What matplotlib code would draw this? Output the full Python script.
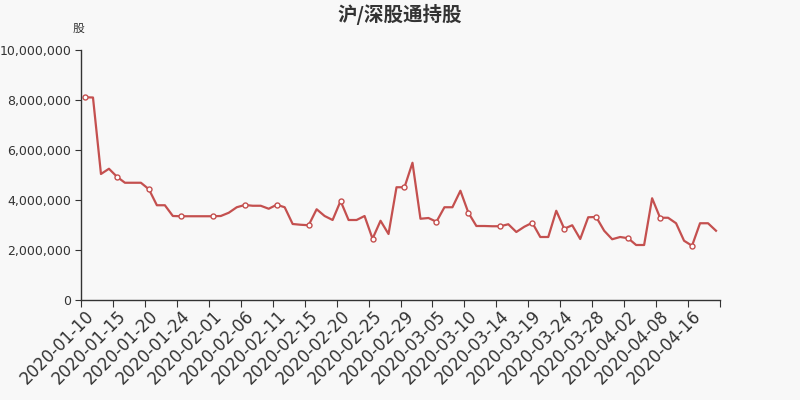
import numpy as np
import matplotlib
matplotlib.use("Agg")
import matplotlib.pyplot as plt
from matplotlib.ticker import FuncFormatter

# tick labels shown on the category axis (every 4th trading day)
tick_labels = ["2020-01-10", "2020-01-15", "2020-01-20", "2020-01-24", "2020-02-01",
               "2020-02-06", "2020-02-11", "2020-02-15", "2020-02-20", "2020-02-25",
               "2020-02-29", "2020-03-05", "2020-03-10", "2020-03-14", "2020-03-19",
               "2020-03-24", "2020-03-28", "2020-04-02", "2020-04-08", "2020-04-16"]

# holdings (shares), one per trading day
holdings = [8110000, 8100000, 5040000, 5250000, 4930000, 4690000, 4690000, 4690000,
            4430000, 3790000, 3790000, 3360000, 3350000, 3350000, 3350000, 3350000,
            3350000, 3360000, 3490000, 3710000, 3800000, 3770000, 3770000, 3650000,
            3810000, 3710000, 3040000, 3010000, 2990000, 3630000, 3360000, 3200000,
            3960000, 3200000, 3200000, 3360000, 2450000, 3170000, 2640000, 4510000,
            4510000, 5490000, 3250000, 3280000, 3130000, 3710000, 3710000, 4370000,
            3490000, 2960000, 2960000, 2950000, 2950000, 3030000, 2720000, 2930000,
            3090000, 2520000, 2520000, 3570000, 2850000, 2990000, 2440000, 3310000,
            3320000, 2770000, 2430000, 2520000, 2470000, 2200000, 2200000, 4070000,
            3290000, 3290000, 3070000, 2370000, 2170000, 3070000, 3070000, 2770000]

n = len(holdings)
x = np.arange(n)
bg = "#f8f8f8"
axis_color = "#333333"
line_color = "#c4504f"
cjk = ["Noto Sans CJK SC", "DejaVu Sans"]

fig = plt.figure(figsize=(8, 4), dpi=100, facecolor=bg)
ax = fig.add_axes([0.10125, 0.25, 0.79875, 0.625], facecolor=bg)

ax.plot(x, holdings, color=line_color, linewidth=1.6,
        marker="o", markevery=4, markersize=3.6,
        markerfacecolor="white", markeredgecolor=line_color, markeredgewidth=1)

ax.set_xlim(-0.5, n - 0.5)
ax.set_ylim(0, 10000000)
ax.set_yticks(np.arange(0, 10000001, 2000000))
ax.yaxis.set_major_formatter(FuncFormatter(lambda v, p: f"{int(v):,}"))

# major ticks at band boundaries, labels at band centers
ax.set_xticks(np.arange(-0.5, n, 4))
ax.set_xticklabels([])
ax.set_xticks(np.arange(0, 4 * len(tick_labels), 4), minor=True)
ax.set_xticklabels(tick_labels, minor=True, rotation=45, ha="right", va="top",
                   rotation_mode="anchor", fontsize=12, color=axis_color)
ax.tick_params(axis="x", which="minor", length=0, pad=5)
ax.tick_params(axis="x", which="major", length=5, color=axis_color)
ax.tick_params(axis="y", length=4, pad=3, color=axis_color, labelsize=9, labelcolor=axis_color)

for s in ["top", "right"]:
    ax.spines[s].set_visible(False)
for s in ["left", "bottom"]:
    ax.spines[s].set_color(axis_color)
    ax.spines[s].set_linewidth(1)

fig.text(0.5, 0.965, "沪/深股通持股", ha="center", va="center", fontsize=14,
         fontweight="bold", color=axis_color, family=cjk)
fig.text(0.0985, 0.928, "股", ha="center", va="center", fontsize=8.5,
         color=axis_color, family=cjk)

fig.savefig("out.png", dpi=100, facecolor=bg)
